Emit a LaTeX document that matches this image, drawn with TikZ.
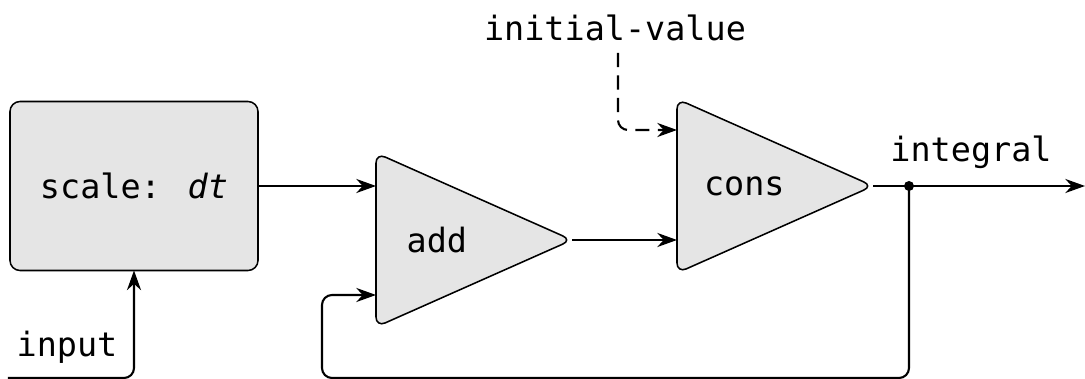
\documentclass[tikz,border=0pt]{standalone}
\usepackage{fontspec}
\setmainfont{DejaVu Sans Mono}
\usetikzlibrary{positioning, arrows.meta, shapes.geometric, calc}

\begin{document}
\begin{tikzpicture}[
    block/.style={rectangle, rounded corners=0.25cm, fill=black!10, draw=black,
                  minimum width=6.2cm, minimum height=4.225cm, align=center,
                  line width=1.1pt, outer sep=0pt},
    amp/.style={isosceles triangle, isosceles triangle stretches, rounded corners=0.25cm,
                fill=black!10, draw=black, minimum width=4.35cm, minimum height=4.9cm,
                line width=1.1pt, outer sep=0pt, inner sep=0pt},
    lbl/.style={inner sep=0pt},
    arr/.style={-{Stealth[length=14pt, width=10pt, inset=4.5pt]}, line width=1.5pt},
    font=\fontsize{23.8}{28}\selectfont,
]
\useasboundingbox (0,0) rectangle (27.125, 9.475);

% blocks
\node[block] (scale) at (3.35, 4.825) {scale: \textit{dt}};
\node[amp, anchor=lower side] (add)  at (9.4, 3.475) {add};
\node[amp, anchor=lower side] (cons) at (16.925, 4.825) {cons};

% labels
\node[lbl] (init)     at (15.375, 8.775) {initial-value};
\node[lbl] (integral) at (24.275, 5.675) {integral};
\node[lbl] (input)    at (1.675, 0.8) {input};

% free ends
\coordinate (ivtop)  at (15.45, 8.15);
\coordinate (out)    at (27.125, 4.825);
\coordinate (inleft) at (0.2, 0.025);
\coordinate (fbleft) at (8.05, 0.025);
\node[circle, fill=black, inner sep=0pt, minimum size=0.25cm] (split) at (22.725, 4.825) {};

% connectors
\draw[arr] (scale.east) -- (scale.east -| add.lower side);
\draw[arr] (add.apex) -- (add.apex -| cons.lower side);
\draw[arr, dashed, dash pattern=on 10pt off 6pt, rounded corners=0.25cm]
    (ivtop) |- ([yshift=1.4cm]cons.lower side);
\draw[arr] (cons.apex) -- (out);
\draw[arr, rounded corners=0.25cm] (split.center) |- (fbleft) |- ([yshift=-1.375cm]add.lower side);
\draw[arr, rounded corners=0.25cm] (inleft) -| (scale.south);

\end{tikzpicture}
\end{document}
